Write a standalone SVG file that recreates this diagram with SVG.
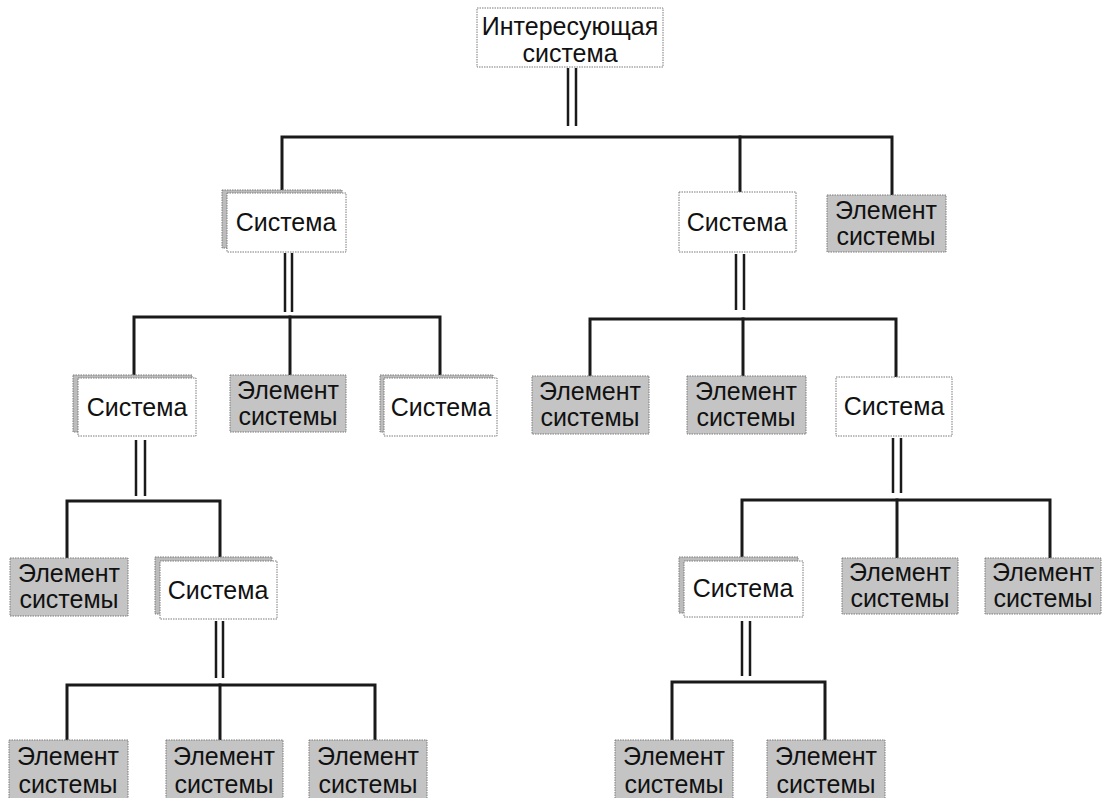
<svg xmlns="http://www.w3.org/2000/svg" width="1104" height="798" viewBox="0 0 1104 798">
<style>
.bg{fill:#ffffff}
.sys{fill:#ffffff;stroke:#7a7a7a;stroke-width:1;stroke-dasharray:1.5 1}
.back{fill:#bcbcbc;stroke:#7a7a7a;stroke-width:1;stroke-dasharray:1.5 1}
.el{fill:#c4c4c4;stroke:#7a7a7a;stroke-width:1;stroke-dasharray:1.5 1}
.t{font-family:"Liberation Sans",Arial,sans-serif;font-size:25px;fill:#111;text-anchor:middle}
.ln{stroke:#1a1a1a;stroke-width:3;fill:none;stroke-linecap:square}
.dl{stroke:#1a1a1a;stroke-width:2.5;fill:none}
</style>
<rect class="bg" x="0" y="0" width="1104" height="798"/>
<g id="connectors">
  <line class="dl" x1="568" y1="68" x2="568" y2="126"/>
  <line class="dl" x1="576" y1="68" x2="576" y2="126"/>
  <polyline class="ln" points="282,190 282,137 892,137 892,195"/>
  <line class="ln" x1="740" y1="137" x2="740" y2="192"/>
  <line class="dl" x1="285" y1="253" x2="285" y2="312"/>
  <line class="dl" x1="292" y1="253" x2="292" y2="312"/>
  <polyline class="ln" points="134,375 134,317 440,317 440,375"/>
  <line class="ln" x1="290" y1="317" x2="290" y2="375"/>
  <line class="dl" x1="736" y1="254" x2="736" y2="310"/>
  <line class="dl" x1="744" y1="254" x2="744" y2="310"/>
  <polyline class="ln" points="590,376 590,319 896,319 896,377"/>
  <line class="ln" x1="743" y1="319" x2="743" y2="376"/>
  <line class="dl" x1="136" y1="440" x2="136" y2="496"/>
  <line class="dl" x1="145" y1="440" x2="145" y2="496"/>
  <polyline class="ln" points="67,558 67,501 220,501 220,556"/>
  <line class="dl" x1="893" y1="438" x2="893" y2="493"/>
  <line class="dl" x1="901" y1="438" x2="901" y2="493"/>
  <polyline class="ln" points="742,557 742,500 1050,500 1050,558"/>
  <line class="ln" x1="897" y1="500" x2="897" y2="558"/>
  <line class="dl" x1="216" y1="621" x2="216" y2="678"/>
  <line class="dl" x1="223" y1="621" x2="223" y2="678"/>
  <polyline class="ln" points="67,740 67,685 375,685 375,740"/>
  <line class="ln" x1="220" y1="685" x2="220" y2="740"/>
  <line class="dl" x1="742" y1="621" x2="742" y2="676"/>
  <line class="dl" x1="750" y1="621" x2="750" y2="676"/>
  <polyline class="ln" points="672,740 672,682 825,682 825,740"/>
</g>
<g id="n0">
  <rect class="sys" x="477" y="8" width="186" height="59"/>
  <text class="t" x="570" y="35">Интересующая</text>
  <text class="t" x="570" y="62">система</text>
</g>
<g id="n1">
  <rect class="back" x="222" y="190" width="120" height="58"/>
  <rect class="sys" x="227" y="193" width="119" height="59"/>
  <text class="t" x="286" y="231">Система</text>
</g>
<g id="n2">
  <rect class="sys" x="679" y="192" width="117" height="60"/>
  <text class="t" x="737" y="231">Система</text>
</g>
<g id="n3">
  <rect class="el" x="827" y="195" width="119" height="57"/>
  <text class="t" x="886" y="219">Элемент</text>
  <text class="t" x="886" y="245">системы</text>
</g>
<g id="n4">
  <rect class="back" x="73" y="375" width="119" height="57"/>
  <rect class="sys" x="78" y="378" width="118" height="58"/>
  <text class="t" x="137" y="416">Система</text>
</g>
<g id="n5">
  <rect class="el" x="230" y="375" width="116" height="57"/>
  <text class="t" x="288" y="399">Элемент</text>
  <text class="t" x="288" y="425">системы</text>
</g>
<g id="n6">
  <rect class="back" x="380" y="375" width="113" height="57"/>
  <rect class="sys" x="384" y="378" width="113" height="58"/>
  <text class="t" x="441" y="416">Система</text>
</g>
<g id="n7">
  <rect class="el" x="532" y="376" width="117" height="58"/>
  <text class="t" x="590" y="400">Элемент</text>
  <text class="t" x="590" y="426">системы</text>
</g>
<g id="n8">
  <rect class="el" x="687" y="376" width="119" height="58"/>
  <text class="t" x="746" y="400">Элемент</text>
  <text class="t" x="746" y="426">системы</text>
</g>
<g id="n9">
  <rect class="sys" x="836" y="377" width="116" height="59"/>
  <text class="t" x="894" y="415">Система</text>
</g>
<g id="n10">
  <rect class="el" x="10" y="558" width="118" height="58"/>
  <text class="t" x="69" y="582">Элемент</text>
  <text class="t" x="69" y="608">системы</text>
</g>
<g id="n11">
  <rect class="back" x="155" y="557" width="117" height="57"/>
  <rect class="sys" x="160" y="561" width="117" height="58"/>
  <text class="t" x="218" y="599">Система</text>
</g>
<g id="n12">
  <rect class="el" x="9" y="740" width="119" height="60"/>
  <text class="t" x="68" y="765">Элемент</text>
  <text class="t" x="68" y="793">системы</text>
</g>
<g id="n13">
  <rect class="el" x="166" y="740" width="117" height="60"/>
  <text class="t" x="224" y="765">Элемент</text>
  <text class="t" x="224" y="793">системы</text>
</g>
<g id="n14">
  <rect class="el" x="309" y="740" width="118" height="60"/>
  <text class="t" x="368" y="765">Элемент</text>
  <text class="t" x="368" y="793">системы</text>
</g>
<g id="n15">
  <rect class="back" x="679" y="557" width="119" height="56"/>
  <rect class="sys" x="684" y="561" width="119" height="56"/>
  <text class="t" x="743" y="597">Система</text>
</g>
<g id="n16">
  <rect class="el" x="842" y="558" width="116" height="56"/>
  <text class="t" x="900" y="581">Элемент</text>
  <text class="t" x="900" y="607">системы</text>
</g>
<g id="n17">
  <rect class="el" x="985" y="558" width="116" height="56"/>
  <text class="t" x="1043" y="581">Элемент</text>
  <text class="t" x="1043" y="607">системы</text>
</g>
<g id="n18">
  <rect class="el" x="615" y="740" width="118" height="60"/>
  <text class="t" x="674" y="765">Элемент</text>
  <text class="t" x="674" y="793">системы</text>
</g>
<g id="n19">
  <rect class="el" x="767" y="740" width="118" height="60"/>
  <text class="t" x="826" y="765">Элемент</text>
  <text class="t" x="826" y="793">системы</text>
</g>
</svg>
